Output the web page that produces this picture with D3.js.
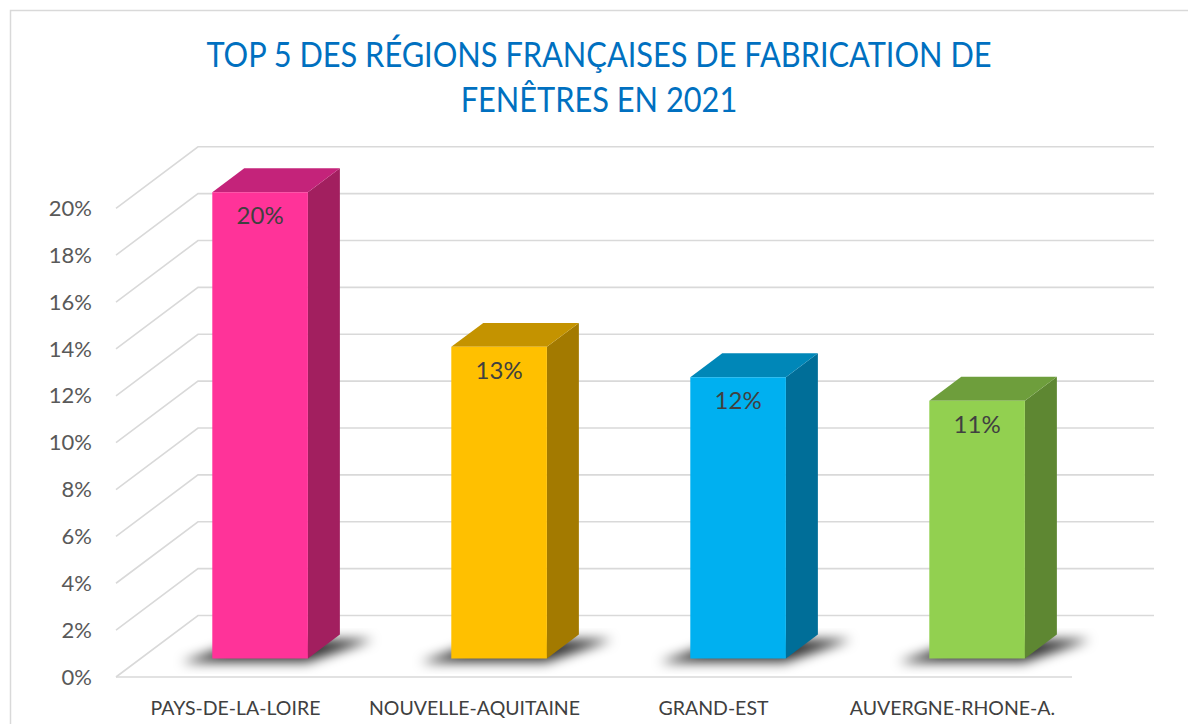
<!DOCTYPE html>
<html>
<head>
<meta charset="utf-8">
<script src="https://cdn.jsdelivr.net/npm/d3@7"></script>
<style>
  html, body { margin: 0; padding: 0; background: #ffffff; }
  svg { display: block; }
</style>
</head>
<body>
<svg id="chart" width="1188" height="724"></svg>
<script>
// ---------- data ----------
const categories = ["PAYS-DE-LA-LOIRE", "NOUVELLE-AQUITAINE", "GRAND-EST", "AUVERGNE-RHONE-A."];
const values = [0.199, 0.133, 0.12, 0.11];
const valueLabels = ["20%", "13%", "12%", "11%"];
const yTicks = [0, 0.02, 0.04, 0.06, 0.08, 0.10, 0.12, 0.14, 0.16, 0.18, 0.20];
const yTickLabels = ["0%", "2%", "4%", "6%", "8%", "10%", "12%", "14%", "16%", "18%", "20%"];
const frontColors = ["#FF3399", "#FFC000", "#00B0F0", "#92D050"];
const topColors = ["#C4237A", "#C49300", "#0087B8", "#6E9E3C"];
const sideColors = ["#A21F5F", "#A37A00", "#006E98", "#5E8732"];
const titleLines = ["TOP 5 DES RÉGIONS FRANÇAISES DE FABRICATION DE", "FENÊTRES EN 2021"];

// ---------- layout ----------
const svg = d3.select("#chart");
const FONT = "Lato, 'Open Sans', sans-serif";
const depthX = 82, depthY = -61.5;       // projection of full depth
const barZ0 = 0.3, barZ1 = 0.69;          // bar depth range
const barFrac = 0.4;

const x = d3.scaleBand().domain(categories).range([116, 1072]).padding(0);
const y = d3.scaleLinear().domain([0, 0.20]).range([677, 208.3]);
const P = (sx, v, z) => [sx + z * depthX, y(v) + z * depthY];

// chart border
svg.append("path")
  .attr("d", "M10.5,724 L10.5,10.5 L1188,10.5")
  .attr("fill", "none").attr("stroke", "#d9d9d9").attr("stroke-width", 1.5);

// title (horizontally condensed to mimic the narrow original face)
svg.append("g").attr("transform", "translate(599,0) scale(0.905,1)")
  .selectAll("text").data(titleLines).join("text")
  .attr("x", 0).attr("y", (d, i) => 67 + i * 45)
  .attr("text-anchor", "middle")
  .attr("font-family", FONT).attr("font-size", 34)
  .attr("fill", "#0070C0")
  .text(d => d);

// gridlines: side wall diagonals + back wall horizontals
const grid = svg.append("g").attr("stroke", "#d9d9d9").attr("stroke-width", 1.6).attr("fill", "none");
const x0 = x.range()[0], x1 = x.range()[1];
grid.selectAll("path.g").data(yTicks).join("path")
  .attr("class", "g")
  .attr("d", v => d3.line()([P(x0, v, 0), P(x0, v, 1), P(x1, v, 1)]));
// floor front edge
grid.append("path").attr("d", d3.line()([P(x0, 0, 0), P(x1, 0, 0)]));

// y tick labels
svg.append("g").selectAll("text").data(yTicks).join("text")
  .attr("x", 92).attr("y", v => y(v))
  .attr("dy", "0.35em")
  .attr("text-anchor", "end")
  .attr("font-family", FONT).attr("font-size", 22)
  .attr("fill", "#595959")
  .text((v, i) => yTickLabels[i]);

// category labels
svg.append("g").selectAll("text").data(categories).join("text")
  .attr("x", d => x(d) + x.bandwidth() / 2).attr("y", 715)
  .attr("text-anchor", "middle")
  .attr("font-family", FONT).attr("font-size", 19.5)
  .attr("fill", "#404040")
  .text(d => d);

// shadow filter
const defs = svg.append("defs");
defs.append("filter").attr("id", "blur").attr("x", "-50%").attr("y", "-50%").attr("width", "200%").attr("height", "200%")
  .append("feGaussianBlur").attr("stdDeviation", 6);

const bars = categories.map((c, i) => {
  const cx = x(c) + x.bandwidth() / 2;
  const w = x.bandwidth() * barFrac;
  return { c, i, l: cx - w / 2, r: cx + w / 2, v: values[i] };
});

// shadows on the floor
svg.append("g").attr("filter", "url(#blur)").selectAll("path").data(bars).join("path")
  .attr("d", b => d3.line()([
    P(b.l - 26, 0, barZ0 - 0.06), P(b.r + 4, 0, barZ0 - 0.06),
    P(b.r + 40, 0, barZ1 - 0.08), P(b.l + 10, 0, barZ1 - 0.08)
  ]) + "Z")
  .attr("fill", "#000").attr("opacity", 0.8);

// bars
const g = svg.append("g").selectAll("g").data(bars).join("g");
// side face
g.append("path")
  .attr("d", b => d3.line()([P(b.r, 0, barZ0), P(b.r, 0, barZ1), P(b.r, b.v, barZ1), P(b.r, b.v, barZ0)]) + "Z")
  .attr("fill", b => sideColors[b.i]);
// top face
g.append("path")
  .attr("d", b => d3.line()([P(b.l, b.v, barZ0), P(b.r, b.v, barZ0), P(b.r, b.v, barZ1), P(b.l, b.v, barZ1)]) + "Z")
  .attr("fill", b => topColors[b.i]);
// front face
g.append("path")
  .attr("d", b => d3.line()([P(b.l, 0, barZ0), P(b.r, 0, barZ0), P(b.r, b.v, barZ0), P(b.l, b.v, barZ0)]) + "Z")
  .attr("fill", b => frontColors[b.i]);

// value labels
g.append("text")
  .attr("x", b => P((b.l + b.r) / 2, b.v, barZ0)[0])
  .attr("y", b => P((b.l + b.r) / 2, b.v, barZ0)[1] + 32)
  .attr("text-anchor", "middle")
  .attr("font-family", FONT).attr("font-size", 24)
  .attr("fill", "#404040")
  .text(b => valueLabels[b.i]);
</script>
</body>
</html>
